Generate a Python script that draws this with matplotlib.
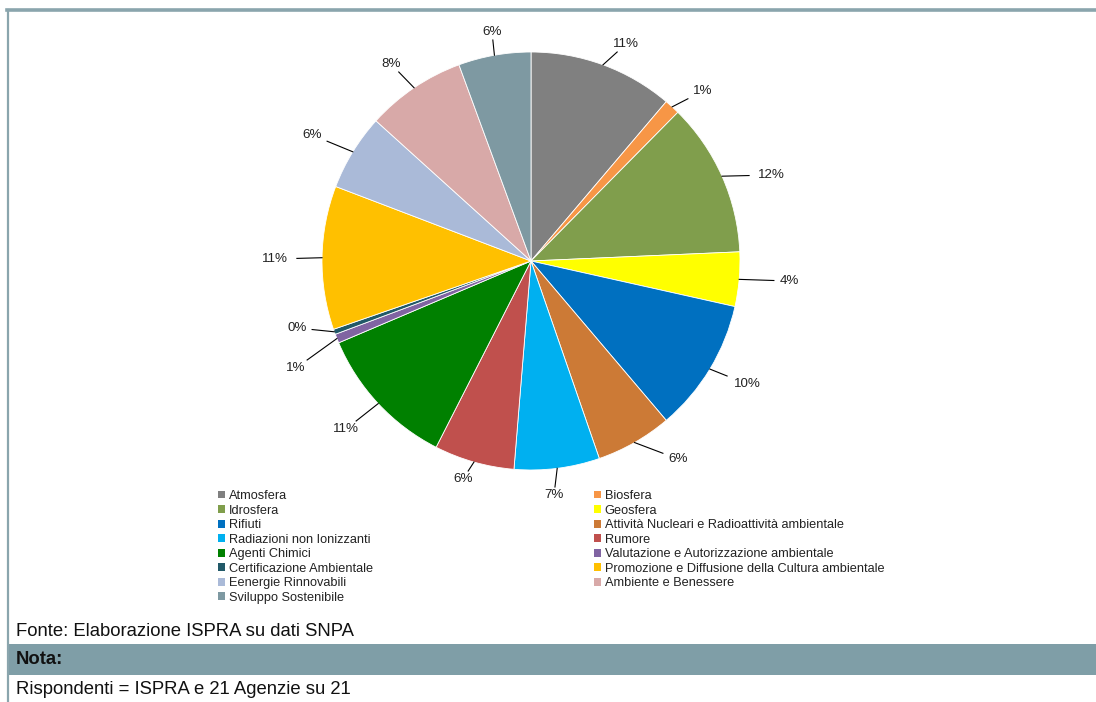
import matplotlib
matplotlib.use("Agg")
import matplotlib.pyplot as plt
from matplotlib.patches import Patch, Rectangle
from matplotlib.lines import Line2D
import numpy as np

plt.rcParams['font.family'] = ['Liberation Sans', 'DejaVu Sans']

# ---------------- data ----------------
categories = [
    "Atmosfera", "Biosfera", "Idrosfera", "Geosfera", "Rifiuti",
    "Attività Nucleari e Radioattività ambientale", "Radiazioni non Ionizzanti",
    "Rumore", "Agenti Chimici", "Valutazione e Autorizzazione ambientale",
    "Certificazione Ambientale", "Promozione e Diffusione della Cultura ambientale",
    "Eenergie Rinnovabili", "Ambiente e Benessere", "Sviluppo Sostenibile",
]
shares = [11.2, 1.2, 11.9, 4.2, 10.3, 5.9, 6.6, 6.2, 11.1, 0.7, 0.4, 11.1, 5.9, 7.7, 5.6]
colors = ["#808080", "#F79646", "#809E4C", "#FFFF00", "#0070C0", "#CC7A36",
          "#00B0F0", "#C0504D", "#008000", "#8064A2", "#215968", "#FFC000",
          "#AABAD8", "#D8A9A8", "#7E99A2"]
source_text = "Fonte: Elaborazione ISPRA su dati SNPA"
note_title = "Nota:"
note_text = "Rispondenti = ISPRA e 21 Agenzie su 21"

# ---------------- layout (pixels) ----------------
W, H = 1096, 702
CX, CY, R = 531, 261, 209
label_px = [(626, 44), (703, 91), (771, 175), (789, 281), (747, 384), (678, 459),
            (554, 495), (463, 479), (346, 429), (296, 368), (297, 328), (275, 259),
            (312, 135), (391, 64), (492, 32)]

fig = plt.figure(figsize=(W / 100, H / 100), dpi=100)
fig.patch.set_facecolor("white")

def fx(px):
    return px / W

def fy(py):
    return 1 - py / H

# frame
frame_col = "#8AA5AD"
fig.add_artist(Line2D([fx(7.5), fx(7.5)], [fy(10), fy(702)], color=frame_col, lw=1.6))
fig.add_artist(Line2D([fx(6.5), fx(1096)], [fy(10), fy(10)], color=frame_col, lw=2.6))
fig.add_artist(Rectangle((fx(8.5), fy(675)), fx(1096) - fx(8.5), fy(644) - fy(675),
                         facecolor="#7F9EA7", edgecolor="none", transform=fig.transFigure))

# pie axes
ax = fig.add_axes([fx(CX - R), fy(CY + R), 2 * R / W, 2 * R / H])
ax.axis("off")
wedges, _ = ax.pie(shares, colors=colors, startangle=90, counterclock=False, radius=1,
                   wedgeprops=dict(edgecolor="white", linewidth=0.6))
ax.set_xlim(-1, 1)
ax.set_ylim(-1, 1)

total = sum(shares)
cum = 0.0
for i, v in enumerate(shares):
    mid = (cum + v / 2) / total * 2 * np.pi
    cum += v
    ex, ey = np.sin(mid), np.cos(mid)
    lx = (label_px[i][0] - CX) / R
    ly = (CY - label_px[i][1]) / R
    txt = f"{int(round(v / total * 100 + 1e-9))}%"
    hw = (len(txt) * 6.8 + 1.5) / R
    hh = 8.0 / R
    dx, dy = ex - lx, ey - ly
    t = min(hw / abs(dx) if dx != 0 else 1e9, hh / abs(dy) if dy != 0 else 1e9)
    px_, py_ = lx + dx * t, ly + dy * t
    ax.plot([ex, px_], [ey, py_], color="black", lw=0.8, clip_on=False)
    ax.text(lx, ly, txt, ha="center", va="center", fontsize=9.6, color="#222222",
            clip_on=False)

# legend, row-major in two columns
handles = [Patch(facecolor=c, edgecolor="none") for c in colors]
left_idx = list(range(0, len(categories), 2))
right_idx = list(range(1, len(categories), 2))
common = dict(frameon=False, fontsize=9.15, handlelength=0.58, handleheight=0.58,
              handletextpad=0.25, labelspacing=0.2, borderpad=0, borderaxespad=0,
              loc="upper left")
leg1 = fig.legend([handles[i] for i in left_idx], [categories[i] for i in left_idx],
                  bbox_to_anchor=(fx(218), fy(490)), **common)
leg2 = fig.legend([handles[i] for i in right_idx], [categories[i] for i in right_idx],
                  bbox_to_anchor=(fx(594), fy(490)), **common)
for lg in (leg1, leg2):
    for t in lg.get_texts():
        t.set_color("#222222")

# footer texts
fig.text(fx(16), fy(631), source_text, fontsize=13.3, va="center", ha="left", color="#111111")
fig.text(fx(16), fy(660), note_title, fontsize=13.3, fontweight="bold", va="center",
         ha="left", color="#111111")
fig.text(fx(16), fy(690), note_text, fontsize=13.3, va="center", ha="left", color="#111111")

fig.savefig("out.png", dpi=100)
